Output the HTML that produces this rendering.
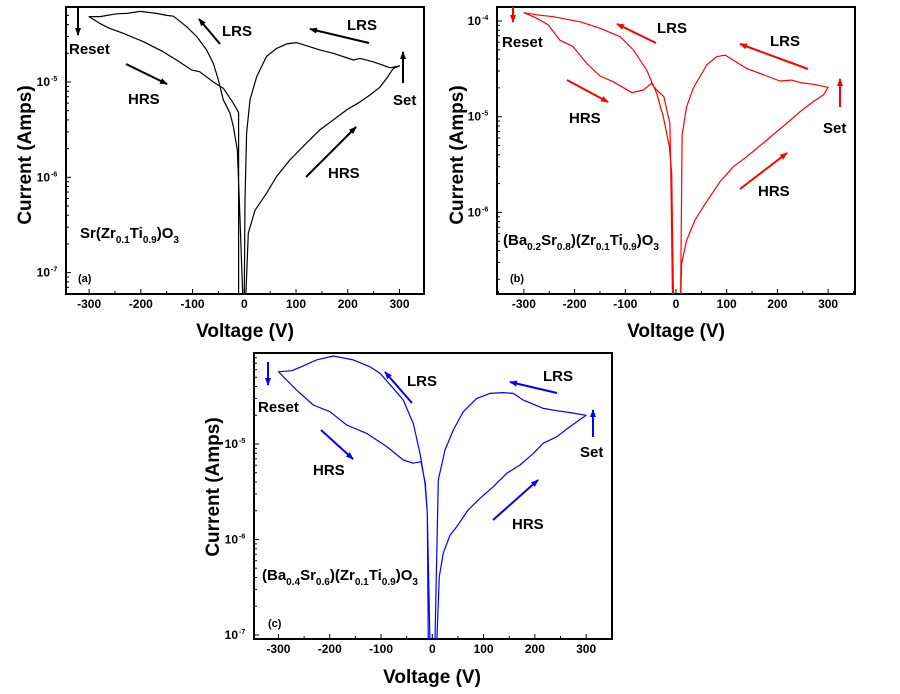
<!DOCTYPE html>
<html><head><meta charset="utf-8">
<style>
html,body{margin:0;padding:0;background:#fff;}
svg{display:block;font-family:"Liberation Sans",Arial,sans-serif;font-weight:bold;}
</style></head>
<body>
<svg id="fig" width="900" height="694" viewBox="0 0 900 694" xmlns="http://www.w3.org/2000/svg">
<defs>
<marker id="ahk" markerWidth="8" markerHeight="6" refX="7" refY="3" orient="auto" markerUnits="userSpaceOnUse"><path d="M0,0 L8,3 L0,6 z" fill="#000"/></marker>
<marker id="ahr" markerWidth="8" markerHeight="6" refX="7" refY="3" orient="auto" markerUnits="userSpaceOnUse"><path d="M0,0 L8,3 L0,6 z" fill="#f00"/></marker>
<marker id="ahb" markerWidth="8" markerHeight="6" refX="7" refY="3" orient="auto" markerUnits="userSpaceOnUse"><path d="M0,0 L8,3 L0,6 z" fill="#00f"/></marker>
<clipPath id="clipa"><rect x="66" y="7" width="358" height="287"/></clipPath>
<clipPath id="clipb"><rect x="497" y="7" width="358" height="287"/></clipPath>
<clipPath id="clipc"><rect x="254" y="353" width="358" height="286"/></clipPath>
</defs>
</svg>
<script>
// ---- data (Voltage in V, Current in A), loop: +HRS 0->300, +LRS 300->0, -LRS 0->-300, -HRS -300->0
const aVolt = [3,7.7,20.6,43,62.5,88,120,146,172,198,224,243,262,275,288,300,282,249,224,211,172,146,127,101,82,62.5,43,24,11,4.5,1.3,0,-3,-9.7,-13.5,-21,-27.7,-40.6,-50,-60,-72.8,-92,-111.5,-137,-150,-169.5,-201.7,-227,-247,-279,-300,-279,-260,-234,-195,-157,-131,-102,-86,-60,-40.6,-21,-11,-11];
const aCurr = [6e-8,2.6e-7,4.5e-7,6.8e-7,1.02e-6,1.52e-6,2.28e-6,3.14e-6,4.0e-6,5.1e-6,6.2e-6,7.3e-6,8.8e-6,1.09e-5,1.39e-5,1.48e-5,1.41e-5,1.63e-5,1.77e-5,1.70e-5,2.0e-5,2.17e-5,2.34e-5,2.59e-5,2.51e-5,2.25e-5,1.85e-5,1.14e-5,6.5e-6,2.9e-6,5.8e-7,6e-8,6e-8,5.8e-7,1.94e-6,3.4e-6,4.7e-6,6.5e-6,1.05e-5,1.57e-5,2.17e-5,3.0e-5,3.8e-5,4.9e-5,5.0e-5,5.25e-5,5.5e-5,5.25e-5,5.2e-5,4.85e-5,4.85e-5,4.1e-5,3.65e-5,3.24e-5,2.65e-5,2.08e-5,1.70e-5,1.34e-5,1.28e-5,1.0e-5,8.6e-6,5.97e-6,4.8e-6,5e-8];
const bVolt = [9.2,11,21,37.5,54,87,113,139,172,199,218,245,271,291,300,271,245,228,205,179,139,113,97,80,60.5,34,21,12,9,-5,-8.5,-13,-25,-38,-58,-84,-110,-150,-189,-242,-275,-300,-275,-252,-229,-203,-176,-150,-124,-87,-64,-49,-38,-24,-12,-10,-7];
const bCurr = [1.2e-7,2.9e-7,5.1e-7,8.3e-7,1.15e-6,2.1e-6,3.0e-6,3.8e-6,5.3e-6,7.0e-6,8.5e-6,1.13e-5,1.44e-5,1.69e-5,2.03e-5,2.18e-5,2.27e-5,2.41e-5,2.36e-5,2.66e-5,3.2e-5,3.9e-5,4.4e-5,4.24e-5,3.47e-5,1.98e-5,1.27e-5,6.4e-6,1.2e-7,1.2e-7,2.56e-6,4.85e-6,1.0e-5,1.75e-5,3.08e-5,4.98e-5,6.86e-5,8.4e-5,9.8e-5,1.11e-4,1.16e-4,1.22e-4,1.07e-4,9.1e-5,6.3e-5,5.4e-5,3.6e-5,2.66e-5,2.32e-5,1.78e-5,1.9e-5,2.23e-5,1.9e-5,1.62e-5,8.5e-6,2.36e-6,1.2e-7];
const cVolt = [8.5,13.7,21.5,34.5,47.5,70,93,119,145,171,197,216.5,242.5,268.5,300,268.5,242.5,216.5,177.5,158,138.5,112.5,86.5,60.5,41,24.7,11.7,5,-4.5,-9.8,-14.3,-24,-37,-56.6,-76,-102,-121.6,-154,-193,-225.6,-258,-274,-300,-264.6,-232,-199.6,-167,-128,-89,-56.6,-37,-22,-13.7,-9.8,-7.8];
const cCurr = [8e-8,4.1e-7,7.2e-7,1.11e-6,1.36e-6,2.04e-6,2.7e-6,3.57e-6,4.93e-6,6.03e-6,7.98e-6,1.02e-5,1.19e-5,1.52e-5,2.0e-5,2.13e-5,2.23e-5,2.36e-5,2.88e-5,3.39e-5,3.45e-5,3.39e-5,3.0e-5,2.18e-5,1.4e-5,8.65e-6,4.2e-6,8e-8,8e-8,1.88e-6,3.87e-6,7.98e-6,1.64e-5,2.88e-5,3.83e-5,5.5e-5,6.45e-5,7.6e-5,8.35e-5,7.6e-5,6.35e-5,5.86e-5,5.7e-5,3.67e-5,2.56e-5,2.18e-5,1.58e-5,1.29e-5,9.4e-6,6.8e-6,6.3e-6,6.53e-6,3.87e-6,1.88e-6,8e-8];
const xTickVals = [-300,-200,-100,0,100,200,300];
const aYExps = [-5,-6,-7];
const bYExps = [-4,-5,-6];
const cYExps = [-5,-6,-7];

const NS = "http://www.w3.org/2000/svg";
const svg = document.getElementById('fig');
function mk(tag, attrs, parent){
  const e = document.createElementNS(NS, tag);
  for (const k in attrs) e.setAttribute(k, attrs[k]);
  (parent||svg).appendChild(e);
  return e;
}

function drawPanel(p){
  const g = mk('g', {});
  
  
  const xs = v => p.x0 + v * p.sx;
  const ys = c => p.yRef - (Math.log10(c) - p.refExp) * p.dec;
  // frame
  const fr = mk('rect', {x:p.L, y:p.T, width:p.R-p.L, height:p.B-p.T, fill:'none', stroke:'#000', 'stroke-width':2}, g);
  
  
  // x ticks
  for (let v = -350; v <= 350; v += 50){
    const x = xs(v);
    if (x < p.L+1 || x > p.R-1) continue;
    const major = (v % 100 === 0);
    mk('line', {x1:x, x2:x, y1:p.B, y2:p.B-(major?5:3), stroke:'#000', 'stroke-width':1}, g);
  }
  xTickVals.forEach(v => {
    const t = mk('text', {x:xs(v), y:p.B+14, 'text-anchor':'middle', 'font-size':12}, g);
    t.textContent = String(v);
    
    
  });
  // y ticks (log)
  for (let e = -9; e <= -2; e++){
    for (let m = 1; m < 10; m++){
      const y = ys(m * Math.pow(10, e));
      if (y < p.T+1 || y > p.B-1) continue;
      mk('line', {x1:p.L, x2:p.L+(m===1?5:3), y1:y, y2:y, stroke:'#000', 'stroke-width':1}, g);
    }
  }
  p.yExps.forEach(e => {
    const y = ys(Math.pow(10, e));
    const t = mk('text', {x:p.L-16, y:y+4, 'text-anchor':'end', 'font-size':12}, g);
    t.textContent = '10';
    
    
    const s = mk('text', {x:p.L-15, y:y-1, 'text-anchor':'start', 'font-size':7}, g);
    s.textContent = String(e);
  });
  // axis titles
  const yt = mk('text', {x:0, y:0, transform:'translate(' + p.ylx + ',' + p.yly + ') rotate(-90)', 'text-anchor':'middle', 'font-size':19}, g);
  yt.textContent = 'Current (Amps)';
  
  
  const xt = mk('text', {x:p.xlx, y:p.xly, 'text-anchor':'middle', 'font-size':19}, g);
  xt.textContent = 'Voltage (V)';
  
  
  // curve
  const cg = mk('g', {'clip-path':'url(#clip' + p.id + ')'}, g);
  let d = '';
  p.volt.forEach((v, i) => {
    d += (i ? 'L' : 'M') + xs(v).toFixed(1) + ',' + ys(p.curr[i]).toFixed(1);
  });
  const path = mk('path', {d:d, fill:'none', stroke:p.color, 'stroke-width':1.2, 'stroke-linejoin':'round'}, cg);
  
  
  // annotations
  p.labels.forEach(l => {
    const t = mk('text', {x:l[1], y:l[2], 'font-size':15}, g);
    t.textContent = l[0];
    
    
  });
  p.arrows.forEach(a => {
    const ln = mk('line', {x1:a[0], y1:a[1], x2:a[2], y2:a[3], stroke:p.color, 'stroke-width':2, 'marker-end':'url(#' + p.marker + ')'}, g);
    
    
  });
  // formula
  const f = mk('text', {x:p.fx, y:p.fy, 'font-size':15}, g);
  
  
  p.formula.forEach(part => {
    const ts = mk('tspan', {}, f);
    if (part[1]) { ts.setAttribute('font-size', 10); ts.setAttribute('dy', 5); }
    else if (part[2]) { ts.setAttribute('dy', -5); }
    ts.textContent = part[0];
  });
  const pl = mk('text', {x:p.plx, y:p.ply, 'font-size':11}, g);
  pl.textContent = '(' + p.id + ')';
  
  
}

drawPanel({id:'a', L:66, T:7, R:424, B:294, x0:244.3, sx:0.5173, yRef:82, refExp:-5, dec:95.3,
  volt:aVolt, curr:aCurr, yExps:aYExps, color:'#000', marker:'ahk',
  ylx:31, yly:155, xlx:245, xly:337,
  labels:[['Reset',69,54],['LRS',222,36],['LRS',347,30],['HRS',128,104],['HRS',328,178],['Set',393,105]],
  arrows:[[78,7,78,35],[220,44,199,19],[369,43,310,29],[126,64,167,84],[306,177,356,127],[403,83,403,52]],
  fx:80, fy:238, formula:[['Sr(Zr'],['0.1',1],['Ti',0,1],['0.9',1],[')O',0,1],['3',1]], plx:78, ply:282});
drawPanel({id:'b', L:497, T:7, R:855, B:294, x0:676, sx:0.507, yRef:21, refExp:-4, dec:95.7,
  volt:bVolt, curr:bCurr, yExps:bYExps, color:'#f00', marker:'ahr',
  ylx:463, yly:155, xlx:676, xly:337,
  labels:[['Reset',502,47],['LRS',657,33],['LRS',770,46],['HRS',569,123],['HRS',758,196],['Set',823,133]],
  arrows:[[513,7,513,22],[656,43,617,24],[808,69,740,44],[567,80,608,102],[740,189,787,153],[840,107,840,79]],
  fx:503, fy:245, formula:[['(Ba'],['0.2',1],['Sr',0,1],['0.8',1],[')(Zr',0,1],['0.1',1],['Ti',0,1],['0.9',1],[')O',0,1],['3',1]], plx:510, ply:282});
drawPanel({id:'c', L:254, T:353, R:612, B:639, x0:432.3, sx:0.5128, yRef:444, refExp:-5, dec:95.5,
  volt:cVolt, curr:cCurr, yExps:cYExps, color:'#00f', marker:'ahb',
  ylx:219, yly:487, xlx:432, xly:683,
  labels:[['Reset',258,412],['LRS',407,386],['LRS',543,381],['HRS',313,475],['HRS',512,529],['Set',580,457]],
  arrows:[[268,362,268,385],[412,403,385,372],[557,393,510,382],[321,430,353,459],[493,520,538,480],[593,437,593,410]],
  fx:262, fy:580, formula:[['(Ba'],['0.4',1],['Sr',0,1],['0.6',1],[')(Zr',0,1],['0.1',1],['Ti',0,1],['0.9',1],[')O',0,1],['3',1]], plx:268, ply:627});
</script>
</body></html>
